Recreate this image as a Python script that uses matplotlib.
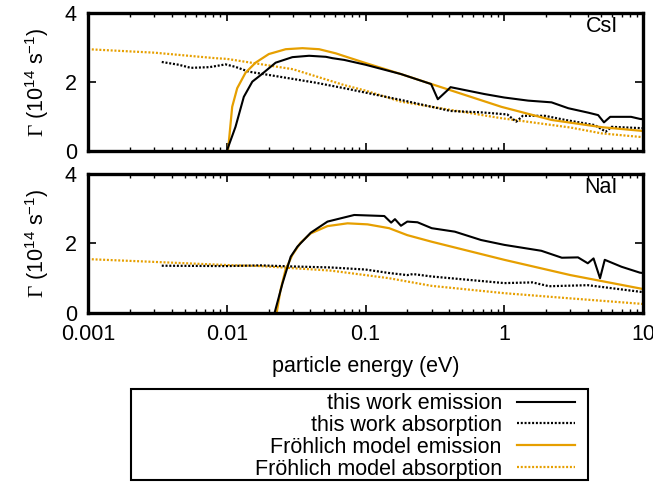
import matplotlib
matplotlib.use("Agg")
import matplotlib.pyplot as plt
from matplotlib.lines import Line2D
from matplotlib.patches import Rectangle

plt.rcParams['font.family'] = ['Liberation Sans', 'DejaVu Sans']
plt.rcParams['mathtext.fontset'] = 'custom'
plt.rcParams['mathtext.rm'] = 'Liberation Serif'
plt.rcParams['mathtext.sf'] = 'Liberation Sans'

# ---- CsI (top panel) ----
csi_em_E = [0.01, 0.01156, 0.01327, 0.01528, 0.01755, 0.0225, 0.0297, 0.0392, 0.0518, 0.0578,
            0.0702, 0.1, 0.18, 0.297, 0.332, 0.392, 0.41, 0.721, 1.0, 1.486, 2.19, 2.89, 4.04,
            4.75, 5.23, 5.8, 8.2, 9.5, 10.0]
csi_em_G = [0.0, 0.70, 1.57, 2.01, 2.20, 2.56, 2.72, 2.76, 2.73, 2.69,
            2.64, 2.50, 2.23, 1.94, 1.50, 1.77, 1.85, 1.65, 1.55, 1.46, 1.41, 1.24, 1.11,
            1.04, 0.83, 0.99, 0.99, 0.93, 0.92]

csi_abs_E = [0.0034, 0.0045, 0.0055, 0.0075, 0.0098, 0.0115, 0.0144, 0.0251, 0.0437, 0.0702,
             0.18, 0.41, 0.68, 1.05, 1.22, 1.36, 1.96, 2.75, 4.5, 5.38, 5.94, 10.0]
csi_abs_G = [2.58, 2.50, 2.41, 2.43, 2.51, 2.44, 2.30, 2.14, 1.98, 1.82,
             1.48, 1.16, 1.12, 1.06, 0.85, 1.02, 1.02, 0.90, 0.75, 0.56, 0.70, 0.66]

csi_fem_E = [0.0102, 0.01094, 0.01189, 0.01366, 0.01612, 0.0201, 0.0266, 0.0351, 0.0463, 0.0611,
             0.0702, 0.1, 0.18, 0.403, 0.953, 2.19, 5.04, 10.0]
csi_fem_G = [0.0, 1.28, 1.82, 2.27, 2.56, 2.81, 2.95, 2.98, 2.95, 2.83,
             2.75, 2.55, 2.23, 1.77, 1.28, 0.90, 0.69, 0.58]

csi_fab_E = [0.001, 0.003, 0.00828, 0.01, 0.03, 0.0702, 0.1, 0.18, 0.3, 0.953, 3.0, 5.04, 10.0]
csi_fab_G = [2.95, 2.85, 2.69, 2.67, 2.37, 1.91, 1.75, 1.43, 1.28, 0.95, 0.68, 0.51, 0.40]

# ---- NaI (bottom panel) ----
nai_em_E = [0.0221, 0.0252, 0.0289, 0.0323, 0.0403, 0.0532, 0.0829, 0.1366, 0.153, 0.163,
            0.18, 0.2, 0.237, 0.3, 0.44, 0.68, 1.0, 1.85, 2.6, 3.4, 4.0, 4.4, 4.9, 5.3, 7.0, 9.5, 10.0]
nai_em_G = [0.0, 0.85, 1.62, 1.91, 2.31, 2.63, 2.82, 2.79, 2.60, 2.70,
            2.51, 2.63, 2.61, 2.44, 2.34, 2.10, 1.96, 1.79, 1.59, 1.60, 1.43, 1.57, 1.00, 1.53, 1.33, 1.16, 1.15]

nai_abs_E = [0.0034, 0.01, 0.0175, 0.029, 0.056, 0.1, 0.148, 0.2, 0.22, 0.3, 1.0, 1.6, 2.1, 4.0, 10.0]
nai_abs_G = [1.36, 1.35, 1.37, 1.34, 1.31, 1.25, 1.15, 1.09, 1.12, 1.05, 0.86, 0.88, 0.77, 0.80, 0.60]

nai_fem_E = [0.02288, 0.0244, 0.0265, 0.0297, 0.034, 0.0403, 0.0532, 0.0742, 0.1035, 0.148,
             0.2, 0.3, 1.0, 3.0, 10.0]
nai_fem_G = [0.0, 0.66, 1.24, 1.67, 2.02, 2.29, 2.50, 2.58, 2.55, 2.44,
             2.24, 2.05, 1.53, 1.09, 0.69]

nai_fab_E = [0.001, 0.003, 0.01, 0.0175, 0.056, 0.1, 0.148, 0.3, 1.0, 3.0, 10.0]
nai_fab_G = [1.55, 1.47, 1.38, 1.35, 1.22, 1.09, 1.00, 0.78, 0.57, 0.42, 0.26]

x_ticks = [0.001, 0.01, 0.1, 1, 10]
x_tick_labels = ['0.001', '0.01', '0.1', '1', '10']
y_ticks = [0, 2, 4]

orange = '#E69F00'
dots = (0, (0.9, 0.8))
fs = 15.5

fig = plt.figure(figsize=(6.53, 4.83), dpi=100)
ax1 = fig.add_axes([0.1348, 0.6874, 0.8499, 0.2857])
ax2 = fig.add_axes([0.1348, 0.3520, 0.8499, 0.2878])

panels = [
    (ax1, 'CsI', csi_em_E, csi_em_G, csi_abs_E, csi_abs_G, csi_fem_E, csi_fem_G, csi_fab_E, csi_fab_G),
    (ax2, 'NaI', nai_em_E, nai_em_G, nai_abs_E, nai_abs_G, nai_fem_E, nai_fem_G, nai_fab_E, nai_fab_G),
]

for ax, name, eE, eG, aE, aG, feE, feG, faE, faG in panels:
    ax.plot(faE, faG, color=orange, lw=1.6, linestyle=dots)
    ax.plot(aE, aG, color='black', lw=1.6, linestyle=dots)
    ax.plot(feE, feG, color=orange, lw=1.6)
    ax.plot(eE, eG, color='black', lw=1.5)
    ax.set_xscale('log')
    ax.set_xlim(0.001, 10)
    ax.set_ylim(0, 4)
    ax.set_yticks(y_ticks)
    ax.set_xticks(x_ticks)
    ax.tick_params(which='both', direction='in', top=True, right=True, labelsize=fs)
    ax.tick_params(which='major', length=6, width=1.2, pad=8)
    ax.tick_params(which='minor', length=3, width=1.0)
    for s in ax.spines.values():
        s.set_linewidth(2.4)
    ax.set_ylabel(r'$\Gamma$ (10$^{\mathsf{14}}$ s$^{\mathsf{-1}}$)', fontsize=fs, labelpad=10)
    ax.text(0.955, 0.90, name, transform=ax.transAxes, ha='right', va='center', fontsize=fs)

ax1.set_xticklabels([])
ax2.set_xticklabels(x_tick_labels)
ax2.set_xlabel('particle energy (eV)', fontsize=fs, labelpad=8)

handles = [
    Line2D([], [], color='black', lw=1.5),
    Line2D([], [], color='black', lw=1.6, linestyle=dots),
    Line2D([], [], color=orange, lw=1.6),
    Line2D([], [], color=orange, lw=1.6, linestyle=dots),
]
labels = ['this work emission', 'this work absorption',
          'Fröhlich model emission', 'Fröhlich model absorption']
fig.legend(handles, labels, loc='upper right', bbox_to_anchor=(0.8806, 0.186),
           frameon=False, markerfirst=False, fontsize=fs, handlelength=2.7,
           handletextpad=0.7, labelspacing=0.04, borderpad=0, borderaxespad=0)
fig.patches.append(Rectangle((131 / 653, 3 / 483), 457 / 653, 91 / 483,
                             transform=fig.transFigure, fill=False, lw=1.5,
                             edgecolor='black'))

fig.savefig('out.png', dpi=100)
